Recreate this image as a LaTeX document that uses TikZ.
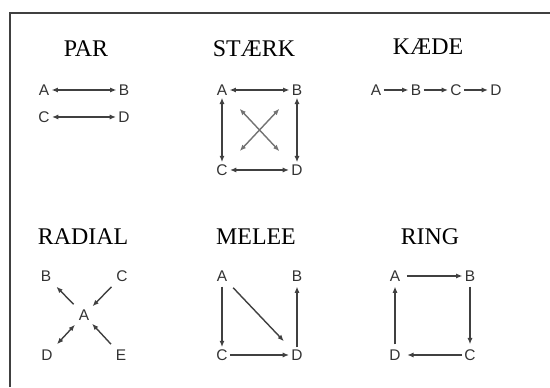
\documentclass[tikz,border=0pt]{standalone}
\usepackage{fontspec}
\setmainfont{Liberation Serif}
\newfontfamily\vtxfont{Liberation Sans}
\usetikzlibrary{arrows.meta,positioning}

\begin{document}
\begin{tikzpicture}[
    framebox/.style = {line width=1.3pt, draw=black!75},
    heading/.style  = {font=\fontsize{17}{20}\selectfont, inner sep=0pt},
    vtx/.style      = {font=\vtxfont\fontsize{11}{13}\selectfont,
                       text=black!80, inner sep=1.5pt},
    % small filled arrow tip, one way
    link/.style     = {line width=1pt, draw=black!75,
                       -{Latex[length=4.5pt, width=3.6pt]}},
    % same tip at both ends
    twoway/.style   = {link, {Latex[length=4.5pt, width=3.6pt]}-{Latex[length=4.5pt, width=3.6pt]}},
    cross/.style    = {twoway, draw=black!55, shorten <=0.38cm, shorten >=0.38cm},
]

\useasboundingbox (0,0) rectangle (13.75,9.675);

% ============================================================
%  OUTER FRAME (right and bottom edges run off the page)
% ============================================================
\draw[framebox] (0.25,0) |- (13.75,9.35);

% ----------------------------------------------------------
%  PAR
% ----------------------------------------------------------
\node[heading] (tPar) at (2.15, 8.45) {PAR};
\node[vtx] (pA) at (1.1, 7.425) {A};
\node[vtx] (pB) at (3.1, 7.425) {B};
\node[vtx] (pC) at (1.1, 6.75)  {C};
\node[vtx] (pD) at (3.1, 6.75)  {D};
\draw[twoway] (pA) -- (pB);
\draw[twoway] (pC) -- (pD);

% ----------------------------------------------------------
%  STAERK
% ----------------------------------------------------------
\node[heading] (tStaerk) at (6.35, 8.45) {STÆRK};
\node[vtx] (sA) at (5.55, 7.425)  {A};
\node[vtx] (sB) at (7.425, 7.425) {B};
\node[vtx] (sC) at (5.55, 5.425)  {C};
\node[vtx] (sD) at (7.425, 5.425) {D};
\draw[twoway] (sA) -- (sB);
\draw[twoway] (sC) -- (sD);
\draw[twoway] (sA) -- (sC);
\draw[twoway] (sB) -- (sD);
% diagonals
\draw[cross] (sA) -- (sD);
\draw[cross] (sB) -- (sC);

% ----------------------------------------------------------
%  KAEDE
% ----------------------------------------------------------
\node[heading] (tKaede) at (10.7, 8.5) {KÆDE};
\node[vtx] (kA) at (9.4, 7.425) {A};
\node[vtx] (kB) at (10.4, 7.425) {B};
\node[vtx] (kC) at (11.4, 7.425) {C};
\node[vtx] (kD) at (12.4, 7.425) {D};
\draw[link] (kA) -- (kB);
\draw[link] (kB) -- (kC);
\draw[link] (kC) -- (kD);

% ----------------------------------------------------------
%  RADIAL
% ----------------------------------------------------------
\node[heading] (tRadial) at (2.075, 3.75) {RADIAL};
\node[vtx] (rA) at (2.1, 1.8)    {A};
\node[vtx] (rB) at (1.15, 2.775) {B};
\node[vtx] (rC) at (3.05, 2.775) {C};
\node[vtx] (rD) at (1.175, 0.8)  {D};
\node[vtx] (rE) at (3.025, 0.8)  {E};
\draw[link, shorten <=3pt, shorten >=3pt] (rA) -- (rB);
\draw[link, shorten <=3pt, shorten >=1pt] (rC) -- (rA);
\draw[twoway, shorten <=2pt, shorten >=3pt] (rA) -- (rD);
\draw[link, shorten <=3pt, shorten >=1pt] (rE) -- (rA);

% ----------------------------------------------------------
%  MELEE
% ----------------------------------------------------------
\node[heading] (tMelee) at (6.4, 3.75) {MELEE};
\node[vtx] (mA) at (5.55, 2.775)  {A};
\node[vtx] (mB) at (7.425, 2.775) {B};
\node[vtx] (mC) at (5.55, 0.8)    {C};
\node[vtx] (mD) at (7.425, 0.8)   {D};
\draw[link, shorten <=2pt] (mA) -- (mC);
\draw[link] (mC) -- (mD);
\draw[link, shorten >=2pt] (mD) -- (mB);
\draw[link, shorten <=4pt, shorten >=6pt] (mA) -- (mD);

% ----------------------------------------------------------
%  RING
% ----------------------------------------------------------
\node[heading] (tRing) at (10.75, 3.75) {RING};
\node[vtx] (gA) at (9.875, 2.775) {A};
\node[vtx] (gB) at (11.75, 2.775) {B};
\node[vtx] (gC) at (11.75, 0.8)   {C};
\node[vtx] (gD) at (9.875, 0.8)   {D};
\draw[link, shorten <=3pt] (gA) -- (gB);
\draw[link, shorten <=2pt, shorten >=2pt] (gB) -- (gC);
\draw[link, shorten >=3pt] (gC) -- (gD);
\draw[link, shorten <=2pt, shorten >=2pt] (gD) -- (gA);

\end{tikzpicture}
\end{document}
